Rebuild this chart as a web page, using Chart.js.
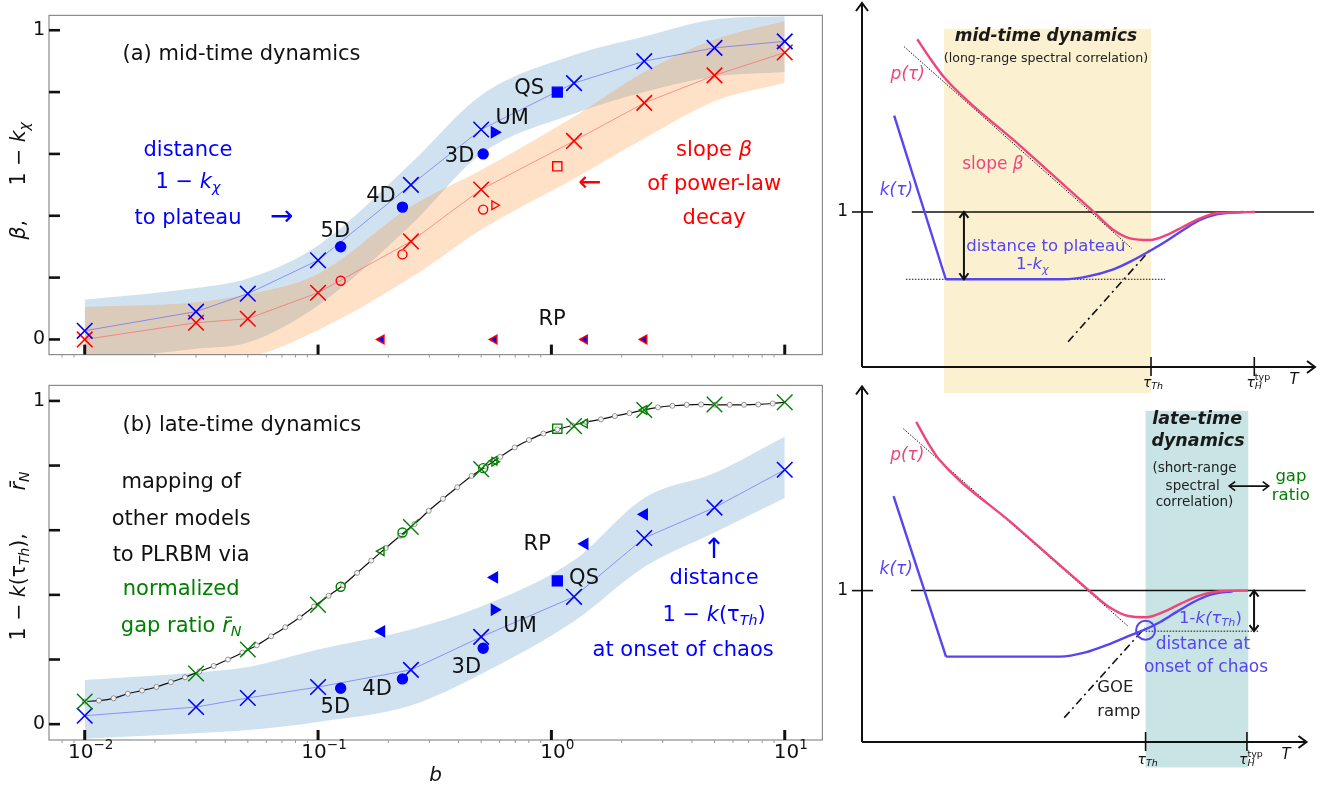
<!DOCTYPE html>
<html>
<head>
<meta charset="utf-8">
<script src="https://cdn.jsdelivr.net/npm/chart.js@4.4.1/dist/chart.umd.min.js"></script>
<style>
  body { margin: 0; background: #fff; width: 1336px; height: 789px; position: relative; overflow: hidden; }
  canvas { position: absolute; }
  #cA { left: 0; top: 0; }
  #cB { left: 0; top: 370px; }
  #cC { left: 835px; top: 0; }
  #cD { left: 835px; top: 375px; }
</style>
</head>
<body>
<canvas id="cA" width="835" height="370"></canvas>
<canvas id="cB" width="835" height="419"></canvas>
<canvas id="cC" width="501" height="396"></canvas>
<canvas id="cD" width="483" height="414"></canvas>
<script>
var FONT = '"DejaVu Sans", Verdana, sans-serif';

// ---- PLRBM results vs b (left panels) ----
var bVals = [0.01, 0.03, 0.05, 0.1, 0.25, 0.5, 1.25, 2.5, 5, 10];
var distKchi = [0.028, 0.09, 0.148, 0.256, 0.5, 0.679, 0.829, 0.9, 0.943, 0.964];
var slopeBeta = [0.0, 0.054, 0.067, 0.151, 0.317, 0.485, 0.642, 0.765, 0.854, 0.928];
var kchiBandHi = [0.128, 0.166, 0.197, 0.304, 0.57, 0.79, 0.92, 0.98, 1.035, 1.045];
var kchiBandLo = [-0.07, -0.03, -0.01, 0.11, 0.37, 0.60, 0.73, 0.80, 0.85, 0.865];
var betaBandHi = [0.105, 0.12, 0.146, 0.212, 0.43, 0.548, 0.72, 0.865, 0.97, 1.03];
var betaBandLo = [-0.10, -0.08, -0.06, 0.03, 0.20, 0.355, 0.52, 0.65, 0.77, 0.83];

var distKth = [0.026, 0.053, 0.081, 0.115, 0.168, 0.27, 0.394, 0.576, 0.67, 0.787];
var kthBandHi = [0.137, 0.16, 0.177, 0.231, 0.293, 0.364, 0.507, 0.70, 0.777, 0.889];
var kthBandLo = [-0.045, -0.028, -0.018, 0.007, 0.058, 0.155, 0.318, 0.486, 0.593, 0.70];
var gapPLRBM = [0.07, 0.157, 0.231, 0.369, 0.61, 0.789, 0.922, 0.972, 0.989, 0.996];

// fine curve of normalized gap ratio
var bFine = [0.01, 0.0115, 0.0133, 0.0153, 0.0176, 0.0203, 0.0234, 0.0269, 0.031, 0.0357,
  0.0411, 0.0474, 0.0546, 0.0629, 0.0724, 0.0834, 0.0961, 0.111, 0.128, 0.147,
  0.169, 0.195, 0.225, 0.259, 0.298, 0.343, 0.395, 0.455, 0.525, 0.604,
  0.696, 0.802, 0.924, 1.06, 1.23, 1.41, 1.63, 1.87, 2.16, 2.49,
  2.86, 3.30, 3.80, 4.38, 5.04, 5.81, 6.69, 7.70, 8.88, 10];
var gapFine = [0.070, 0.073, 0.080, 0.094, 0.104, 0.115, 0.130, 0.145, 0.163, 0.180,
  0.200, 0.221, 0.244, 0.272, 0.300, 0.330, 0.364, 0.397, 0.430, 0.468,
  0.506, 0.545, 0.583, 0.619, 0.660, 0.697, 0.733, 0.768, 0.797, 0.827,
  0.856, 0.879, 0.899, 0.912, 0.924, 0.935, 0.943, 0.953, 0.962, 0.972,
  0.980, 0.985, 0.988, 0.989, 0.988, 0.988, 0.988, 0.989, 0.992, 0.996];

// other models mapped onto b
var dimB = [0.125, 0.23, 0.51];          // 5D, 4D, 3D
var dimKchi = [0.30, 0.428, 0.60];
var dimBeta = [0.19, 0.275, 0.42];
var dimKth = [0.111, 0.14, 0.235];
var dimGap = [0.425, 0.593, 0.792];
var umB = [0.57], umKchi = [0.67], umBeta = [0.434], umKth = [0.354], umGap = [0.812];
var qsB = [1.06], qsKchi = [0.80], qsBeta = [0.56], qsKth = [0.443], qsGap = [0.914];
var rpB = [0.187, 0.57, 1.39, 2.5];
var rpBeta = [0, 0, 0, 0];
var rpKth = [0.287, 0.454, 0.558, 0.649];
var rpGap = [0.535, 0.815, 0.93, 0.972];
var bTicks = [0.01, 0.1, 1, 10];
var bTickExp = ['\u22122', '\u22121', '0', '1'];

// ---- schematic curves (right panels), arbitrary units ----
var tauPa = [12.2, 15.0, 18.3, 35.0, 51.1, 55.5, 59.2, 63.6, 67.3, 70.9, 74.6, 78.3, 86.8];
var pTauA = [2.114, 1.992, 1.863, 1.425, 1.002, 0.884, 0.830, 0.819, 0.852, 0.905, 0.959, 0.992, 1.0];
var tauKdropA = [7.1, 18.5], kDropA = [1.621, 0.566];
var tauKa = [18.5, 44.5, 49.6, 55.5, 59.9, 63.6, 67.3, 70.9, 74.6, 78.3, 84.2];
var kTauA = [0.566, 0.566, 0.583, 0.630, 0.690, 0.750, 0.815, 0.884, 0.948, 0.985, 1.0];

var tauPb = [12.2, 15.0, 17.2, 34.0, 51.1, 55.5, 59.9, 63.9, 68.0, 71.7, 76.1, 80.5, 86.8];
var pTauB = [2.114, 1.968, 1.871, 1.439, 1.0, 0.893, 0.832, 0.824, 0.861, 0.914, 0.968, 0.996, 1.0];
var tauKdropB = [7.1, 18.9], kDropB = [1.624, 0.564];
var tauKb = [18.9, 44.5, 50.3, 55.5, 59.9, 63.6, 67.3, 70.9, 74.6, 78.3, 83.4];
var kTauB = [0.564, 0.564, 0.592, 0.645, 0.699, 0.742, 0.796, 0.861, 0.925, 0.972, 0.996];
var tauTh = 63.8, tauH = 86.6;

function pts(xs, ys) { return xs.map(function (x, i) { return { x: x, y: ys[i] }; }); }

function segFont(size, st) {
  var small = st.indexOf('_') >= 0 || st.indexOf('^') >= 0;
  var sz = small ? size * 0.68 : size;
  return (st.indexOf('i') >= 0 ? 'italic ' : '') + (st.indexOf('b') >= 0 ? 'bold ' : '') + sz.toFixed(1) + 'px ' + FONT;
}
// segs: [text, style]; style chars: i italic, b bold, _ sub, ^ sup, < overlay on previous
function drawRich(ctx, segs, x, y, size, color, align) {
  ctx.save();
  ctx.fillStyle = color;
  ctx.textBaseline = 'middle';
  ctx.textAlign = 'left';
  var w = 0, last = 0;
  segs.forEach(function (s) {
    var st = s[1] || '';
    ctx.font = segFont(size, st);
    var sw = ctx.measureText(s[0]).width;
    if (st.indexOf('<') >= 0) { w += Math.max(0, sw - last); } else { w += sw; last = sw; }
  });
  var cx = align === 'left' ? x : (align === 'right' ? x - w : x - w / 2);
  var prevX = cx;
  segs.forEach(function (s) {
    var st = s[1] || '';
    ctx.font = segFont(size, st);
    var dy = st.indexOf('_') >= 0 ? size * 0.28 : (st.indexOf('^') >= 0 ? -size * 0.36 : 0);
    var sx = st.indexOf('<') >= 0 ? prevX : cx;
    ctx.fillText(s[0], sx, y + dy);
    var sw = ctx.measureText(s[0]).width;
    if (st.indexOf('<') < 0) { prevX = cx; cx += sw; } else { cx = Math.max(cx, sx + sw); }
  });
  ctx.restore();
}

function line(ctx, x1, y1, x2, y2) { ctx.beginPath(); ctx.moveTo(x1, y1); ctx.lineTo(x2, y2); ctx.stroke(); }

// ---- left panels ----
var leftPlugin = {
  id: 'leftPanel',
  afterDraw: function (chart, args, o) {
    var ctx = chart.ctx, a = chart.chartArea, xs = chart.scales.x, ys = chart.scales.y;
    ctx.save();
    ctx.strokeStyle = '#8c8c8c'; ctx.lineWidth = 1.2;
    ctx.strokeRect(a.left, a.top, a.right - a.left, a.bottom - a.top);
    ctx.strokeStyle = '#111'; ctx.lineWidth = 2.6;
    ys.ticks.forEach(function (t) {
      var p = ys.getPixelForValue(t.value); line(ctx, a.left, p, a.left + 11, p);
    });
    ctx.lineWidth = 3;
    xs.ticks.forEach(function (t, i) {
      var p = xs.getPixelForValue(t.value); line(ctx, p, a.bottom, p, a.bottom - 10);
      if (o.xtitle) {
        drawRich(ctx, [['10'], [bTickExp[i], '^']], p + 6, a.bottom + 13, 20, '#111', 'center');
      }
    });
    ctx.strokeStyle = '#999'; ctx.lineWidth = 1;
    [0.001, 0.01, 0.1, 1, 10].forEach(function (d) {
      for (var m = 2; m <= 9; m++) {
        var v = d * m;
        if (v < xs.min || v > xs.max) continue;
        var p = xs.getPixelForValue(v); line(ctx, p, a.bottom, p, a.bottom + 3);
      }
    });
    o.notes.forEach(function (n) {
      drawRich(ctx, n.segs, xs.getPixelForValue(n.b), ys.getPixelForValue(n.y), n.size || 21, n.color || '#111', n.align || 'center');
    });
    o.ytitle.forEach(function (t) {
      ctx.save();
      ctx.translate(20, ys.getPixelForValue(t.y));
      ctx.rotate(-Math.PI / 2);
      drawRich(ctx, t.segs, 0, 0, 20.5, '#111', 'center');
      ctx.restore();
    });
    if (o.xtitle) drawRich(ctx, [['b', 'i']], (a.left + a.right) / 2, a.bottom + 36, 20, '#111', 'center');
    ctx.restore();
  }
};

function band(xs, hi, lo, color, order) {
  return [
    { data: pts(xs, hi), showLine: true, fill: '+1', backgroundColor: color, borderWidth: 0, pointRadius: 0, cubicInterpolationMode: 'monotone', order: order },
    { data: pts(xs, lo), showLine: true, fill: false, borderWidth: 0, pointRadius: 0, cubicInterpolationMode: 'monotone', order: order }
  ];
}
function crossLine(xs, ys, color, lineColor) {
  return { data: pts(xs, ys), showLine: true, borderColor: lineColor, borderWidth: 0.8, pointStyle: 'crossRot', pointRadius: 11,
    pointBorderColor: color, pointBorderWidth: 1.6, pointBackgroundColor: 'rgba(0,0,0,0)', order: 2 };
}
function marks(xs, ys, style, color, filled, r, rot, edge) {
  return { data: pts(xs, ys), showLine: false, pointStyle: style, pointRadius: r, pointRotation: rot || 0,
    pointBorderColor: edge || color, pointBorderWidth: 1.4, pointBackgroundColor: filled ? color : 'rgba(0,0,0,0)', order: 1 };
}

function leftOptions(showX, notes, ytitle, xHeight) {
  return {
    responsive: false, animation: false, devicePixelRatio: 1,
    layout: { padding: { left: 0, right: 8, top: showX ? 11 : 3, bottom: 0 } },
    plugins: { legend: { display: false }, tooltip: { enabled: false }, leftPanel: { notes: notes, ytitle: ytitle, xtitle: showX } },
    scales: {
      x: {
        type: 'logarithmic', min: 0.00703, max: 14.5,
        grid: { display: false, drawTicks: false }, border: { display: false },
        afterBuildTicks: function (s) { s.ticks = bTicks.map(function (v) { return { value: v }; }); },
        afterFit: function (s) { s.height = xHeight; },
        ticks: { display: false, autoSkip: false }
      },
      y: {
        min: -0.049, max: 1.048,
        grid: { display: false, drawTicks: false }, border: { display: false },
        afterBuildTicks: function (s) { s.ticks = [0, 0.2, 0.4, 0.6, 0.8, 1].map(function (v) { return { value: v }; }); },
        afterFit: function (s) { s.width = 49; },
        ticks: { padding: 4, color: '#111', font: { family: FONT, size: 19 },
          callback: function (v) { return v === 0 ? '0' : (v === 1 ? '1' : ''); } }
      }
    }
  };
}

var BLUE = '#0000ff', RED = '#ff0000', GREEN = '#008000';
var notesA = [
  { b: 0.01452, y: 0.92, segs: [['(a) mid-time dynamics']], align: 'left' },
  { b: 0.0277, y: 0.612, segs: [['distance']], color: BLUE },
  { b: 0.0277, y: 0.508, segs: [['1 \u2212 '], ['k', 'i'], ['\u03C7', 'i_']], color: BLUE },
  { b: 0.0277, y: 0.391, segs: [['to plateau']], color: BLUE },
  { b: 0.0698, y: 0.394, segs: [['\u2192']], color: BLUE, size: 28 },
  { b: 0.1186, y: 0.349, segs: [['5D']] },
  { b: 0.186, y: 0.462, segs: [['4D']] },
  { b: 0.404, y: 0.593, segs: [['3D']] },
  { b: 0.679, y: 0.716, segs: [['UM']] },
  { b: 0.803, y: 0.813, segs: [['QS']] },
  { b: 1.006, y: 0.064, segs: [['RP']] },
  { b: 4.98, y: 0.612, segs: [['slope '], ['\u03B2', 'i']], color: RED },
  { b: 4.98, y: 0.502, segs: [['of power-law']], color: RED },
  { b: 4.98, y: 0.391, segs: [['decay']], color: RED },
  { b: 1.46, y: 0.505, segs: [['\u2190']], color: RED, size: 28 }
];
var titleA = [
  { y: 0.6, segs: [['1 \u2212 '], ['k', 'i'], ['\u03C7', 'i_']] },
  { y: 0.355, segs: [['\u03B2', 'i'], [',']] }
];
var notesB = [
  { b: 0.01452, y: 0.924, segs: [['(b) late-time dynamics']], align: 'left' },
  { b: 0.0259, y: 0.746, segs: [['mapping of']] },
  { b: 0.0259, y: 0.633, segs: [['other models']] },
  { b: 0.0259, y: 0.523, segs: [['to PLRBM via']] },
  { b: 0.0259, y: 0.416, segs: [['normalized']], color: GREEN },
  { b: 0.0259, y: 0.303, segs: [['gap ratio '], ['r\u0304', 'i'], ['N', 'i_']], color: GREEN },
  { b: 0.1186, y: 0.052, segs: [['5D']] },
  { b: 0.179, y: 0.107, segs: [['4D']] },
  { b: 0.432, y: 0.174, segs: [['3D']] },
  { b: 0.734, y: 0.303, segs: [['UM']] },
  { b: 1.38, y: 0.45, segs: [['QS']] },
  { b: 0.869, y: 0.557, segs: [['RP']] },
  { b: 4.98, y: 0.538, segs: [['\u2191']], color: BLUE, size: 28 },
  { b: 4.98, y: 0.45, segs: [['distance']], color: BLUE },
  { b: 4.98, y: 0.336, segs: [['1 \u2212 '], ['k', 'i'], ['(\u03C4'], ['Th', 'i_'], [')']], color: BLUE },
  { b: 3.67, y: 0.229, segs: [['at onset of chaos']], color: BLUE }
];
var titleB = [
  { y: 0.425, segs: [['1 \u2212 '], ['k', 'i'], ['(\u03C4', ''], ['Th', 'i_'], ['),']] },
  { y: 0.752, segs: [['r\u0304', 'i'], ['N', 'i_']] }
];

var blueBand = 'rgba(31,119,180,0.21)', orangeBand = 'rgba(255,127,14,0.23)';

new Chart(document.getElementById('cA'), {
  type: 'scatter',
  data: { datasets: [].concat(
    band(bVals, kchiBandHi, kchiBandLo, blueBand, 6),
    band(bVals, betaBandHi, betaBandLo, orangeBand, 5),
    [crossLine(bVals, distKchi, BLUE, 'rgba(80,80,255,0.7)'),
     crossLine(bVals, slopeBeta, RED, 'rgba(255,80,80,0.7)'),
     marks(dimB, dimKchi, 'circle', BLUE, true, 5),
     marks(dimB, dimBeta, 'circle', RED, false, 4.5),
     marks(umB, umKchi, 'triangle', BLUE, true, 6, 90),
     marks(umB, umBeta, 'triangle', RED, false, 5, 90),
     marks(qsB, qsKchi, 'rect', BLUE, true, 7),
     marks(qsB, qsBeta, 'rect', RED, false, 6.5),
     marks(rpB, rpBeta, 'triangle', BLUE, true, 5, -90, RED)]
  ) },
  options: leftOptions(false, notesA, titleA, 8),
  plugins: [leftPlugin]
});

var fineLine = { data: pts(bFine, gapFine), showLine: true, borderColor: '#111', borderWidth: 1.2,
  pointStyle: 'circle', pointBorderColor: '#777', pointBorderWidth: 0.8, pointBackgroundColor: 'rgba(255,255,255,0.9)',
  pointRadius: function (c) { return c.dataIndex < bFine.length - 1 ? 2.5 : 0; }, cubicInterpolationMode: 'monotone', order: 3 };

new Chart(document.getElementById('cB'), {
  type: 'scatter',
  data: { datasets: [].concat(
    band(bVals, kthBandHi, kthBandLo, blueBand, 6),
    [fineLine,
     crossLine(bVals, distKth, BLUE, 'rgba(80,80,255,0.7)'),
     marks(bVals, gapPLRBM, 'crossRot', GREEN, false, 11),
     marks(dimB, dimKth, 'circle', BLUE, true, 5),
     marks(dimB, dimGap, 'circle', GREEN, false, 4.5),
     marks(umB, umKth, 'triangle', BLUE, true, 6, 90),
     marks(umB, umGap, 'triangle', GREEN, false, 5, 90),
     marks(qsB, qsKth, 'rect', BLUE, true, 7),
     marks(qsB, qsGap, 'rect', GREEN, false, 6.5),
     marks(rpB, rpKth, 'triangle', BLUE, true, 6, -90),
     marks(rpB, rpGap, 'triangle', GREEN, false, 5, -90)]
  ) },
  options: leftOptions(true, notesB, titleB, 49),
  plugins: [leftPlugin]
});

// ---- right schematic panels ----
var PINK = '#f0457a', KBLUE = '#5546f0';
function arrowHead(ctx, x, y, dx, dy, s) {
  var len = Math.sqrt(dx * dx + dy * dy), ux = dx / len, uy = dy / len;
  ctx.beginPath();
  ctx.moveTo(x - ux * s - uy * s * 0.75, y - uy * s + ux * s * 0.75);
  ctx.lineTo(x, y);
  ctx.lineTo(x - ux * s + uy * s * 0.75, y - uy * s - ux * s * 0.75);
  ctx.stroke();
}
function dblArrow(ctx, x1, y1, x2, y2, s) {
  line(ctx, x1, y1, x2, y2);
  arrowHead(ctx, x2, y2, x2 - x1, y2 - y1, s);
  arrowHead(ctx, x1, y1, x1 - x2, y1 - y2, s);
}
var rightPlugin = {
  id: 'rightPanel',
  beforeDatasetsDraw: function (chart, args, o) {
    var ctx = chart.ctx, xs = chart.scales.x, ys = chart.scales.y;
    ctx.save();
    ctx.fillStyle = o.shade.color;
    var x1 = xs.getPixelForValue(o.shade.x0), x2 = xs.getPixelForValue(o.shade.x1);
    var y1 = ys.getPixelForValue(o.shade.y1), y2 = ys.getPixelForValue(o.shade.y0);
    ctx.fillRect(x1, y1, x2 - x1, y2 - y1);
    ctx.restore();
  },
  afterDraw: function (chart, args, o) {
    var ctx = chart.ctx, a = chart.chartArea, xs = chart.scales.x, ys = chart.scales.y;
    var X = function (v) { return xs.getPixelForValue(v); }, Y = function (v) { return ys.getPixelForValue(v); };
    ctx.save();
    ctx.strokeStyle = '#111'; ctx.lineWidth = 2;
    line(ctx, a.left, a.bottom, a.left, a.top);
    arrowHead(ctx, a.left, a.top, 0, -1, 8);
    line(ctx, a.left, a.bottom, a.right, a.bottom);
    arrowHead(ctx, a.right, a.bottom, 1, 0, 8);
    ctx.lineWidth = 1.6;
    line(ctx, a.left - 10, Y(1), a.left + 11, Y(1));
    [tauTh, tauH].forEach(function (t) { line(ctx, X(t), a.bottom - 10, X(t), a.bottom + 9); });
    ctx.lineWidth = 2;
    dblArrow(ctx, X(o.vArrow.x), Y(o.vArrow.y0), X(o.vArrow.x), Y(o.vArrow.y1), 6);
    if (o.hArrow) { ctx.lineWidth = 1.6; dblArrow(ctx, X(o.hArrow.x0), Y(o.hArrow.y), X(o.hArrow.x1), Y(o.hArrow.y), 6); }
    drawRich(ctx, [['1']], a.left - 14, Y(1), 17, '#111', 'right');
    drawRich(ctx, [['\u03C4', 'i'], ['Th', 'i_']], X(tauTh) + 2, a.bottom + o.tickLabelDy, 14, '#111', 'center');
    drawRich(ctx, [['\u03C4', 'i'], ['H', 'i_'], ['typ', '^<']], X(tauH) + 4, a.bottom + o.tickLabelDy, 14, '#111', 'center');
    drawRich(ctx, [['T', 'i']], X(95.4), a.bottom + 13, 15, '#111', 'center');
    o.notes.forEach(function (n) {
      drawRich(ctx, n.segs, X(n.x), Y(n.y), n.size || 16.5, n.color || '#222', n.align || 'center');
    });
    ctx.restore();
  }
};
function curve(xs, ys, color, width, smooth, dash, order) {
  return { data: pts(xs, ys), showLine: true, borderColor: color, borderWidth: width, pointRadius: 0,
    cubicInterpolationMode: smooth ? 'monotone' : 'default', tension: 0, borderDash: dash || [], fill: false, order: order || 1 };
}
function rightOptions(pad, o) {
  return {
    responsive: false, animation: false, devicePixelRatio: 1,
    layout: { padding: pad },
    plugins: { legend: { display: false }, tooltip: { enabled: false }, rightPanel: o },
    scales: {
      x: { type: 'linear', display: false, min: 0, max: 100 },
      y: { type: 'linear', display: false, min: 0, max: 2.348 }
    }
  };
}

new Chart(document.getElementById('cC'), {
  type: 'scatter',
  data: { datasets: [
    curve([11.0, 99.8], [1, 1], '#111', 1.5, false, [], 5),
    curve([9.3, 59.5], [2.066, 0.766], '#111', 1, false, [1.5, 1.5], 4),
    curve([9.7, 66.9], [0.566, 0.566], '#111', 1, false, [1.5, 1.5], 4),
    curve([45.5, 63.6], [0.163, 0.755], '#111', 1.6, false, [8, 4, 2, 4], 4),
    curve(tauKdropA, kDropA, KBLUE, 2.4, false, [], 3),
    curve(tauKa, kTauA, KBLUE, 2.4, true, [], 3),
    curve(tauPa, pTauA, PINK, 2.4, true, [], 2)
  ] },
  options: rightOptions({ left: 27, right: 21, top: 3, bottom: 29 }, {
    shade: { color: '#fbf0d0', x0: 18.1, x1: 63.8, y0: -0.168, y1: 2.181 },
    vArrow: { x: 22.5, y0: 1.0, y1: 0.566 },
    tickLabelDy: 16,
    notes: [
      { x: 40.6, y: 2.129, segs: [['mid-time dynamics', 'bi']], size: 17, color: '#1a1a1a' },
      { x: 40.6, y: 1.987, segs: [['(long-range spectral correlation)']], size: 12.6 },
      { x: 10.1, y: 1.884, segs: [['p(\u03C4)', 'i']], size: 17, color: PINK },
      { x: 7.6, y: 1.135, segs: [['k(\u03C4)', 'i']], size: 17, color: KBLUE },
      { x: 28.9, y: 1.303, segs: [['slope '], ['\u03B2', 'i']], size: 17, color: PINK },
      { x: 40.6, y: 0.774, segs: [['distance to plateau']], size: 16.5, color: KBLUE },
      { x: 37.6, y: 0.658, segs: [['1-'], ['k', 'i'], ['\u03C7', 'i_']], size: 16.5, color: KBLUE }
    ]
  }),
  plugins: [rightPlugin]
});

new Chart(document.getElementById('cD'), {
  type: 'scatter',
  data: { datasets: [
    curve([11.0, 99.8], [1, 1], '#111', 1.5, false, [], 5),
    curve([9.3, 59.9], [2.069, 0.764], '#111', 1, false, [1.5, 1.5], 4),
    curve([63.8, 89.3], [0.732, 0.732], '#111', 1, false, [1.5, 1.5], 4),
    curve([45.5, 63.6], [0.161, 0.753], '#111', 1.6, false, [8, 4, 2, 4], 4),
    curve(tauKdropB, kDropB, KBLUE, 2.4, false, [], 3),
    curve(tauKb, kTauB, KBLUE, 2.4, true, [], 3),
    curve(tauPb, pTauB, PINK, 2.4, true, [], 2),
    { data: [{ x: tauTh, y: 0.738 }], showLine: false, pointStyle: 'circle', pointRadius: 9.5,
      pointBorderColor: KBLUE, pointBorderWidth: 2, pointBackgroundColor: 'rgba(0,0,0,0)', order: 1 }
  ] },
  options: rightOptions({ left: 27, right: 3, top: 3, bottom: 47 }, {
    shade: { color: '#c8e4e4', x0: 63.8, x1: 86.9, y0: -0.168, y1: 2.187 },
    vArrow: { x: 88.2, y0: 1.0, y1: 0.732 },
    hArrow: { x0: 82.6, x1: 91.5, y: 1.69 },
    tickLabelDy: 18,
    notes: [
      { x: 75.4, y: 2.131, segs: [['late-time', 'bi']], size: 17.5, color: '#1a1a1a' },
      { x: 75.6, y: 1.987, segs: [['dynamics', 'bi']], size: 17.5, color: '#1a1a1a' },
      { x: 74.8, y: 1.805, segs: [['(short-range']], size: 13.5 },
      { x: 74.4, y: 1.69, segs: [['spectral']], size: 13.5 },
      { x: 74.8, y: 1.579, segs: [['correlation)']], size: 13.5 },
      { x: 93.0, y: 1.755, segs: [['gap']], size: 16.5, color: GREEN, align: 'left' },
      { x: 92.2, y: 1.626, segs: [['ratio']], size: 16.5, color: GREEN, align: 'left' },
      { x: 10.2, y: 1.895, segs: [['p(\u03C4)', 'i']], size: 17, color: PINK },
      { x: 7.7, y: 1.137, segs: [['k(\u03C4)', 'i']], size: 17, color: KBLUE },
      { x: 78.4, y: 0.815, segs: [['1-'], ['k', 'i'], ['(\u03C4', 'i'], ['Th', 'i_'], [')']], size: 16.5, color: KBLUE },
      { x: 76.7, y: 0.643, segs: [['distance at']], size: 17, color: KBLUE },
      { x: 77.4, y: 0.492, segs: [['onset of chaos']], size: 17, color: KBLUE },
      { x: 52.9, y: 0.357, segs: [['GOE']], size: 16.5, align: 'left' },
      { x: 52.9, y: 0.202, segs: [['ramp']], size: 16.5, align: 'left' }
    ]
  }),
  plugins: [rightPlugin]
});
</script>
</body>
</html>
